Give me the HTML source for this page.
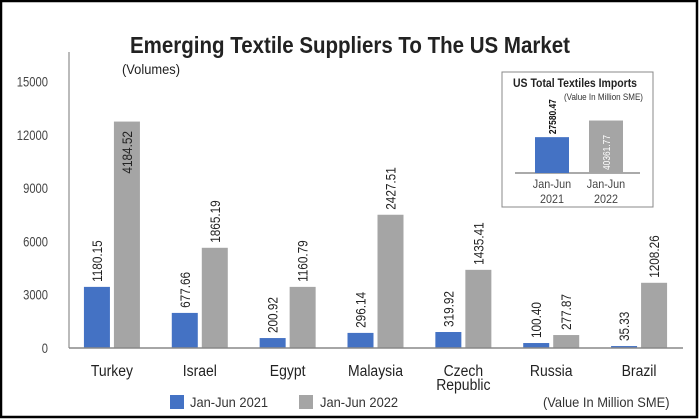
<!DOCTYPE html>
<html><head><meta charset="utf-8"><style>
html,body{margin:0;padding:0;background:#fff}
svg{display:block}
text{font-family:"Liberation Sans Narrow","Liberation Sans",sans-serif}
</style></head><body>
<svg id="chart" width="700" height="420" viewBox="0 0 700 420" xmlns="http://www.w3.org/2000/svg">
<rect x="1" y="1" width="696" height="416" fill="#fff" stroke="#000" stroke-width="2.5"/>
<text x="130" y="53" font-size="23" font-weight="bold" fill="#222" textLength="440" lengthAdjust="spacingAndGlyphs">Emerging Textile Suppliers To The US Market</text>
<text class="n93" x="122" y="74" font-size="14" fill="#222">(Volumes)</text>
<g id="yaxis"></g>
<g id="bars"></g>
<g id="xaxis"></g>
<g>
 <g><rect x="170" y="395" width="14" height="14" fill="#4472c4"/><text class="n93" x="190" y="407" font-size="14" fill="#333">Jan-Jun 2021</text></g>
 <g><rect x="299" y="395" width="14" height="14" fill="#a5a5a5"/><text class="n93" x="320" y="407" font-size="14" fill="#333">Jan-Jun 2022</text></g>
</g>
<text class="n93" x="543" y="407" font-size="14" fill="#333">(Value In Million SME)</text>
<g id="inset">
 <rect x="502" y="72" width="151" height="135" fill="#fff" stroke="#888" stroke-width="1"/>
 <text x="513" y="87" font-size="12" font-weight="bold" fill="#222" textLength="124" lengthAdjust="spacingAndGlyphs">US Total Textiles Imports</text>
 <text x="564" y="100" font-size="9" fill="#333" textLength="79" lengthAdjust="spacingAndGlyphs">(Value In Million SME)</text>
</g>
</svg>
<script>
var categories=["Turkey","Israel","Egypt","Malaysia","Czech\nRepublic","Russia","Brazil"];
var volumes2021=[3440,1975,560,850,900,280,110];
var volumes2022=[12745,5640,3440,7500,4400,730,3670];
var labels2021=["1180.15","677.66","200.92","296.14","319.92","100.40","35.33"];
var labels2022=["4184.52","1865.19","1160.79","2427.51","1435.41","277.87","1208.26"];
var yTicks=[0,3000,6000,9000,12000,15000];
var insetCategories=["Jan-Jun\n2021","Jan-Jun\n2022"];
var insetValues=[27580.47,40361.77];
var insetLabels=["27580.47","40361.77"];

var NS="http://www.w3.org/2000/svg";
function mk(tag,attrs,parent,txt){var e=document.createElementNS(NS,tag);for(var k in attrs)e.setAttribute(k,attrs[k]);if(txt!==undefined)e.textContent=txt;parent.appendChild(e);return e;}
var x0=68,x1=683,y0=348,yTop=81.5;
function yScale(v){return y0-(v/15000)*(y0-yTop);}
var band=(x1-x0)/categories.length;
function xCenter(i){return x0+band*(i+0.5);}
var yG=document.getElementById('yaxis'),bG=document.getElementById('bars'),xG=document.getElementById('xaxis');
var yl=mk('line',{x1:69,y1:52,x2:69,y2:y0,stroke:'#777','stroke-width':1},yG);


yTicks.forEach(function(t){
 var tx=mk('text',{x:48,y:yScale(t)+5,'font-size':14,fill:'#444','text-anchor':'end','class':'n80'},yG,String(t));
 
 
});
var xl=mk('line',{x1:69,y1:y0,x2:x1,y2:y0,stroke:'#888','stroke-width':1.5},xG);


var bw=26;
categories.forEach(function(c,i){
 var cx=xCenter(i);
 [[volumes2021,labels2021,'#4472c4',cx-28,'2021'],[volumes2022,labels2022,'#a5a5a5',cx+2,'2022']].forEach(function(s){
  var v=s[0][i],top=yScale(v),bx=s[3];
  var r=mk('rect',{x:bx,y:top,width:bw,height:y0-top,fill:s[2]},bG);
  
  
  var lx=bx+bw/2+5,inside=(top<150);
  var ly=inside?top+52:top-5;
  var t=mk('text',{x:lx,y:ly,'font-size':14,fill:'#222','class':'n84',transform:'rotate(-90 '+lx+' '+ly+')'},bG,s[1][i]);
  
  
 });
 var lines=c.split('\n');
 lines.forEach(function(ln,j){
  var t=mk('text',{x:cx,y:376+j*14,'font-size':15.5,fill:'#222','text-anchor':'middle','class':'n90'},xG,ln);
  
  
 });
});
var iG=document.getElementById('inset');
var iy0=173,ik=0.00130;
var icx=[552,606],icol=['#4472c4','#a5a5a5'];
var il=mk('line',{x1:515,y1:iy0,x2:640,y2:iy0,stroke:'#555','stroke-width':1},iG);


insetValues.forEach(function(v,i){
 var h=v*ik,top=iy0-h;
 var r=mk('rect',{x:icx[i]-17,y:top,width:34,height:h,fill:icol[i]},iG);
 
 
 var lx=icx[i]+4,ly=i===0?top-3:iy0-3;
 var t=mk('text',{x:lx,y:ly,'font-size':10,'font-weight':i===0?'bold':'normal',fill:i===0?'#111':'#fff','class':'n84',transform:'rotate(-90 '+lx+' '+ly+')'},iG,insetLabels[i]);
 
 
 insetCategories[i].split('\n').forEach(function(ln,j){
  var tt=mk('text',{x:icx[i],y:188+j*15,'font-size':12,fill:'#444','text-anchor':'middle','class':'n90'},iG,ln);
  
  
 });
});
var factors={n80:0.80,n84:0.84,n90:0.90,n93:0.92};
Object.keys(factors).forEach(function(cls){
 document.querySelectorAll('text.'+cls).forEach(function(el){
  var w=el.getComputedTextLength();
  if(w>0){el.setAttribute('textLength',(w*factors[cls]).toFixed(1));el.setAttribute('lengthAdjust','spacingAndGlyphs');}
 });
});
</script>
</body></html>
